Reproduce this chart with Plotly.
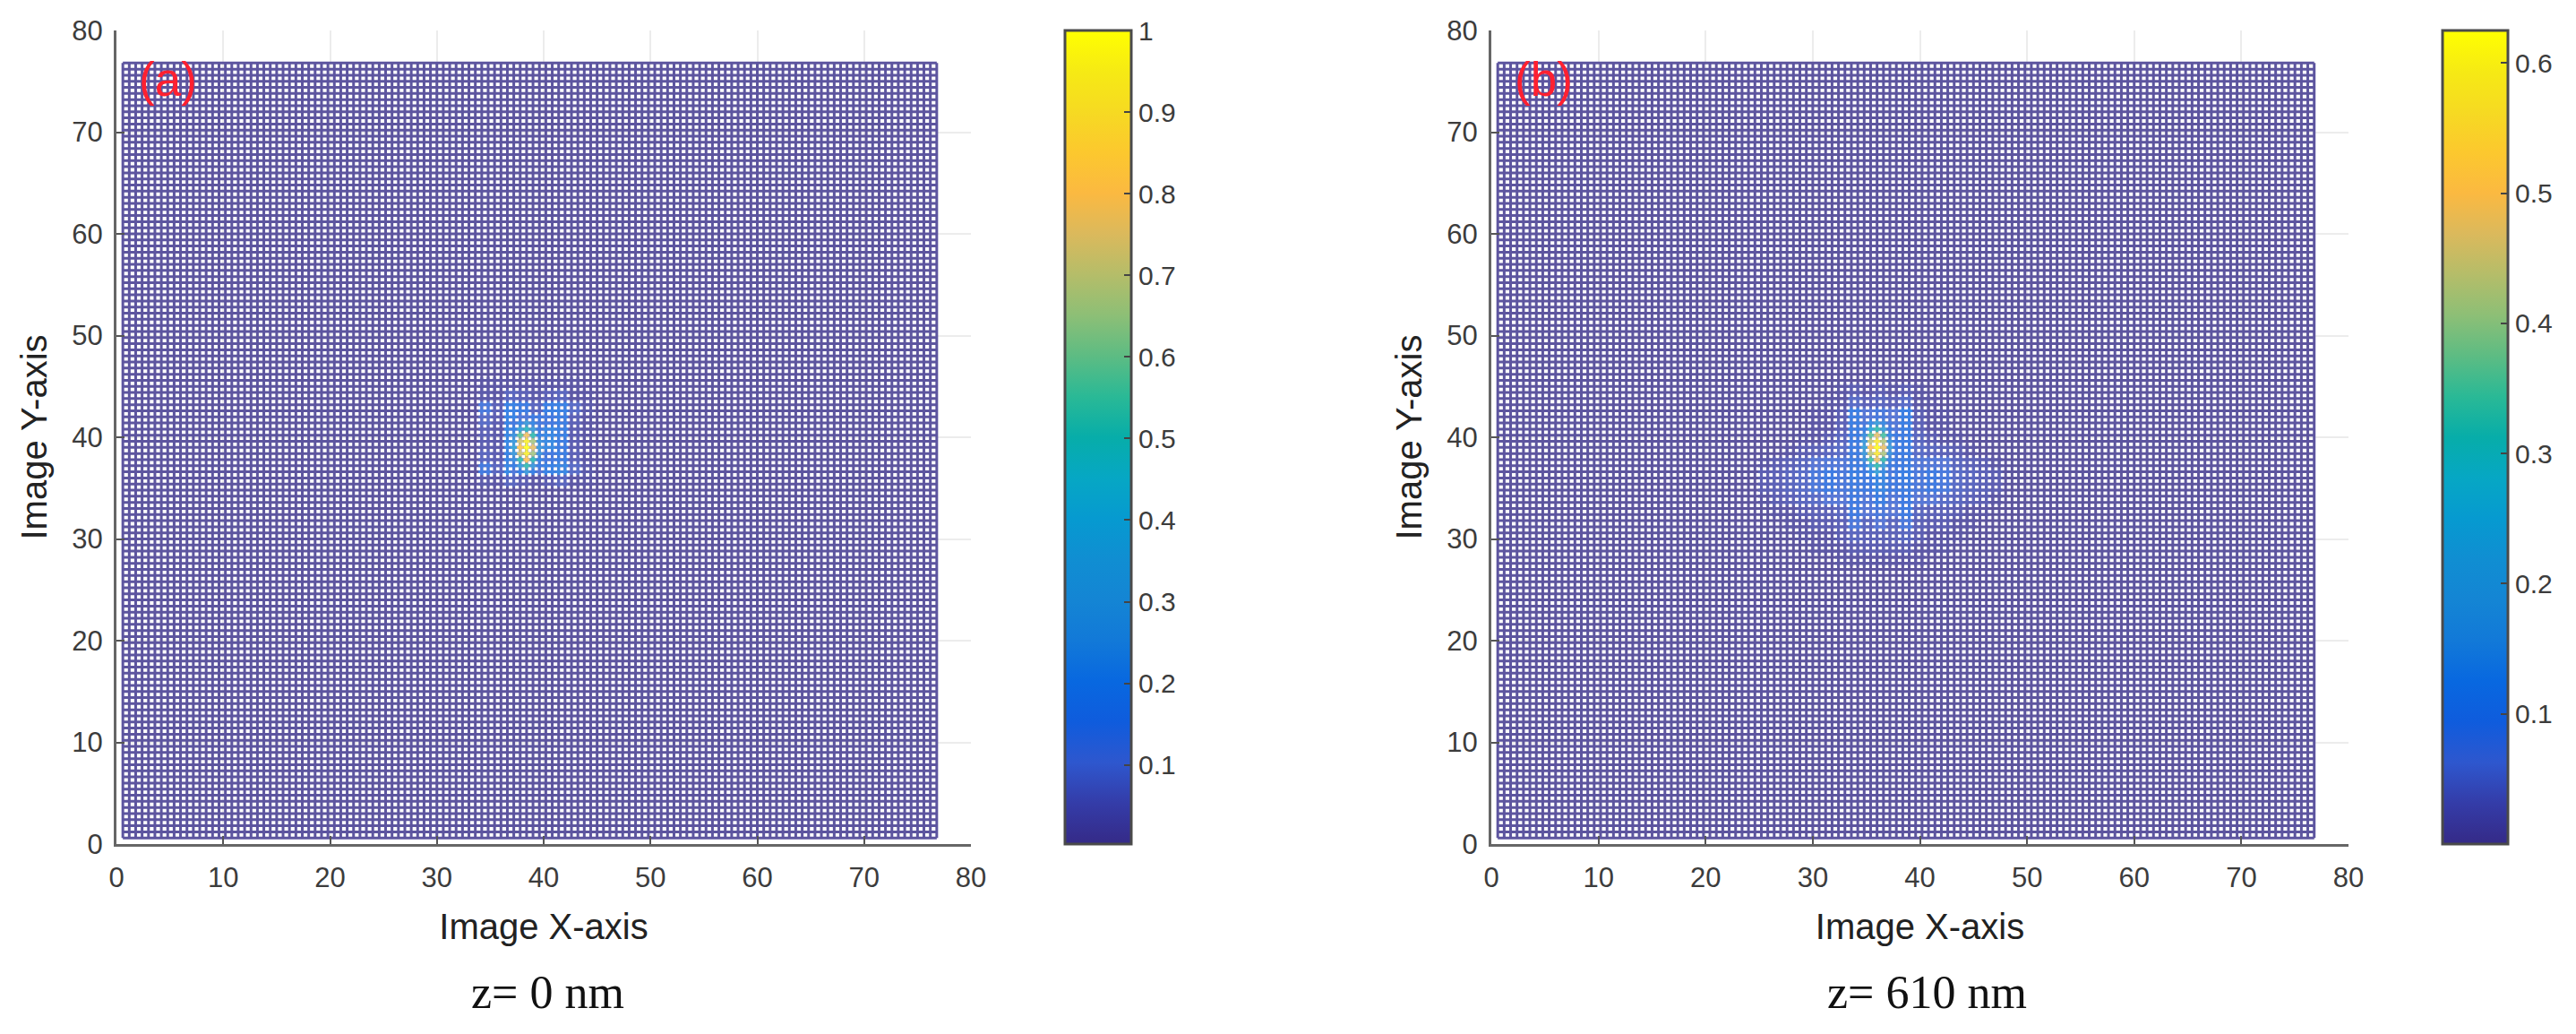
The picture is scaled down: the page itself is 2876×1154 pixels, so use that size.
import plotly.graph_objects as go

W, H = 2876, 1154

PARULA = ["#352a87", "#343ca8", "#2e57ce", "#0f5cdd", "#0868e0", "#1279d8", "#1485d4", "#108ed2",
          "#069ad0", "#06a7c4", "#07ada9", "#2ab996", "#5dbc83", "#8dbf76", "#b5bd69", "#dbb95c",
          "#fbb941", "#fcc82e", "#f6da22", "#f6ea14", "#ffff00"]

TICKS_AXIS = [0, 10, 20, 30, 40, 50, 60, 70, 80]
CBAR_A_TICKS = [0.1, 0.2, 0.3, 0.4, 0.5, 0.6, 0.7, 0.8, 0.9, 1]
CBAR_B_TICKS = [0.1, 0.2, 0.3, 0.4, 0.5, 0.6]
CBAR_A_RANGE = [0.003, 1.0]
CBAR_B_RANGE = [0.0, 0.625]

MESH_STEP = 0.6
MESH_COUNT = 128

# Panel (a): coarse side-lobe cells (1.2 units), top row first
A_HALO_X = [34.2, 35.4, 36.6, 37.8, 39.0, 40.2, 41.4, 42.6, 43.8]
A_HALO_Y = [45.0, 43.8, 42.6, 41.4, 40.2, 39.0, 37.8, 36.6, 35.4]
A_HALO = [
    [.01, .01, .02, .02, .01, .02, .02, .01, .00],
    [.03, .02, .06, .05, .03, .05, .06, .02, .01],
    [.13, .05, .19, .16, .06, .18, .19, .08, .03],
    [.08, .04, .20, .12, .15, .14, .18, .05, .02],
    [.05, .03, .22, .18, .25, .21, .19, .04, .01],
    [.04, .03, .22, .22, .25, .23, .17, .04, .01],
    [.06, .04, .20, .14, .15, .14, .18, .05, .02],
    [.14, .06, .21, .17, .09, .19, .21, .08, .03],
    [.03, .02, .06, .04, .02, .04, .06, .02, .01],
]
# Panel (a): main lobe on mesh nodes, top row first
A_CORE_X = [37.2, 37.8, 38.4, 39.0, 39.6]
A_CORE_Y = [41.4, 40.8, 40.2, 39.6, 39.0, 38.4, 37.8, 37.2, 36.6]
A_CORE = [
    [.14, .22, .32, .22, .14],
    [.20, .36, .48, .32, .16],
    [.26, .58, .78, .52, .20],
    [.30, .72, .95, .66, .26],
    [.36, .82, 1.0, .76, .30],
    [.30, .72, .95, .66, .26],
    [.24, .52, .80, .50, .20],
    [.18, .32, .52, .30, .16],
    [.12, .18, .30, .18, .10],
]

# Panel (b): coarse side-lobe cells (1.2 units), top row first
B_HALO_X = [25.2, 26.4, 27.6, 28.8, 30.0, 31.2, 32.4, 33.6, 34.8, 36.0, 37.2, 38.4, 39.6, 40.8, 42.0, 43.2, 44.4, 45.6, 46.8]
B_HALO_Y = [44.4, 43.2, 42.0, 40.8, 39.6, 38.4, 37.2, 36.0, 34.8, 33.6, 32.4, 31.2, 30.0, 28.8, 27.6]
B_HALO = [
    [.00, .00, .00, .00, .00, .00, .01, .02, .01, .02, .01, .02, .01, .00, .00, .00, .00, .00, .00],
    [.00, .00, .00, .00, .00, .01, .01, .05, .03, .04, .03, .05, .01, .01, .00, .00, .00, .00, .00],
    [.00, .00, .00, .00, .01, .01, .02, .11, .06, .08, .06, .11, .02, .01, .01, .00, .00, .00, .00],
    [.00, .00, .00, .00, .01, .01, .03, .11, .07, .14, .07, .11, .03, .01, .01, .00, .00, .00, .00],
    [.00, .00, .00, .01, .01, .02, .04, .10, .09, .16, .09, .10, .04, .02, .01, .01, .00, .00, .00],
    [.00, .00, .01, .02, .03, .04, .05, .10, .09, .15, .09, .10, .05, .04, .03, .02, .01, .00, .00],
    [.01, .02, .03, .04, .06, .07, .07, .10, .09, .14, .09, .10, .07, .07, .06, .04, .03, .02, .01],
    [.02, .03, .04, .05, .08, .09, .08, .11, .09, .13, .09, .11, .08, .09, .08, .05, .04, .03, .02],
    [.02, .03, .04, .05, .08, .09, .08, .10, .09, .13, .09, .10, .08, .09, .08, .05, .04, .03, .02],
    [.01, .02, .03, .04, .05, .06, .06, .09, .07, .11, .07, .09, .06, .06, .05, .04, .03, .02, .01],
    [.00, .01, .01, .02, .03, .03, .04, .09, .06, .08, .06, .09, .04, .03, .03, .02, .01, .01, .00],
    [.00, .00, .01, .01, .02, .02, .03, .08, .04, .06, .04, .08, .03, .02, .02, .01, .01, .00, .00],
    [.00, .00, .00, .01, .01, .01, .02, .04, .03, .03, .03, .04, .02, .01, .01, .01, .00, .00, .00],
    [.00, .00, .00, .00, .01, .01, .01, .02, .02, .02, .02, .02, .01, .01, .01, .00, .00, .00, .00],
    [.00, .00, .00, .00, .00, .00, .01, .01, .01, .01, .01, .01, .01, .00, .00, .00, .00, .00, .00],
]
# Panel (b): main lobe on mesh nodes, top row first
B_CORE_X = [34.8, 35.4, 36.0, 36.6, 37.2]
B_CORE_Y = [41.4, 40.8, 40.2, 39.6, 39.0, 38.4, 37.8, 37.2, 36.6]
B_CORE = [
    [.08, .14, .20, .14, .08],
    [.12, .24, .32, .22, .10],
    [.16, .36, .47, .34, .13],
    [.19, .44, .58, .42, .16],
    [.22, .50, .62, .48, .20],
    [.19, .44, .58, .42, .16],
    [.16, .34, .48, .32, .13],
    [.12, .22, .32, .21, .10],
    [.09, .14, .22, .14, .08],
]

TEXT_COLOR = "#3c3c3c"
LINE_WIDTH = 3.0
SOFTEN = 0.2
COLOUR_LEVELS = 80


def px_x(p):
    return p / W


def px_y(p):
    return 1 - p / H


def mesh_index(v):
    return round(v / MESH_STEP)


def rgb(col):
    return [int(col[k:k + 2], 16) for k in (1, 3, 5)]


def colour(v, lo, hi):
    f = min(max((v - lo) / (hi - lo), 0), 1)
    f = round(f * COLOUR_LEVELS) / COLOUR_LEVELS
    pos = f * (len(PARULA) - 1)
    k = min(int(pos), len(PARULA) - 2)
    t = pos - k
    mix = [a + (b - a) * t for a, b in zip(rgb(PARULA[k]), rgb(PARULA[k + 1]))]
    return "#%02x%02x%02x" % tuple(round(c + (255 - c) * SOFTEN) for c in mix)


def node_values(hx, hy, hz, cx, cy, cz):
    values = {}
    for r, y in enumerate(hy):
        for c, x in enumerate(hx):
            i0, j0 = mesh_index(x), mesh_index(y)
            for i in (i0, i0 + 1):
                for j in (j0, j0 + 1):
                    values[(i, j)] = hz[r][c]
    for r, y in enumerate(cy):
        for c, x in enumerate(cx):
            values[(mesh_index(x), mesh_index(y))] = cz[r][c]
    return values


def add_panel(fig, n, values, rng):
    xa, ya = f"x{n}", f"y{n}"
    grid = [MESH_STEP * k for k in range(1, MESH_COUNT + 1)]
    lo_g, hi_g = grid[0], grid[-1]
    xs, ys = [], []
    for g in grid:
        xs += [g, g, None, lo_g, hi_g, None]
        ys += [lo_g, hi_g, None, g, g, None]
    base = colour(rng[0], *rng)
    fig.add_trace(go.Scatter(x=xs, y=ys, mode="lines", xaxis=xa, yaxis=ya, showlegend=False,
                             hoverinfo="skip", line=dict(color=base, width=LINE_WIDTH)))
    bins = {}
    for (i, j), v in sorted(values.items(), key=lambda t: t[1]):
        col = colour(v, *rng)
        if col == base:
            continue
        b = bins.setdefault(col, ([], [], v))
        x0, y0 = i * MESH_STEP, j * MESH_STEP
        b[0].extend([x0 - MESH_STEP / 2, x0 + MESH_STEP / 2, None, x0, x0, None])
        b[1].extend([y0, y0, None, y0 - MESH_STEP / 2, y0 + MESH_STEP / 2, None])
    for col, (bx, by, _) in sorted(bins.items(), key=lambda t: t[1][2]):
        fig.add_trace(go.Scatter(x=bx, y=by, mode="lines", xaxis=xa, yaxis=ya, showlegend=False,
                                 hoverinfo="skip", line=dict(color=col, width=LINE_WIDTH)))


fig = go.Figure()
add_panel(fig, "", node_values(A_HALO_X, A_HALO_Y, A_HALO, A_CORE_X, A_CORE_Y, A_CORE), CBAR_A_RANGE)
add_panel(fig, "2", node_values(B_HALO_X, B_HALO_Y, B_HALO, B_CORE_X, B_CORE_Y, B_CORE), CBAR_B_RANGE)

# Traces that carry the colour bars
fig.add_trace(go.Scatter(x=[38.4], y=[39.0], xaxis="x", yaxis="y", mode="markers", showlegend=False, hoverinfo="skip",
                         marker=dict(color=[1.0], coloraxis="coloraxis", size=1, opacity=0)))
fig.add_trace(go.Scatter(x=[36.0], y=[39.0], xaxis="x2", yaxis="y2", mode="markers", showlegend=False, hoverinfo="skip",
                         marker=dict(color=[0.62], coloraxis="coloraxis2", size=1, opacity=0)))

TOP, BOTTOM = 34, 942
PANELS = {"a": (130, 1084, 1189, 1263), "b": (1665, 2622, 2727, 2800)}
scale = [[i / (len(PARULA) - 1), c] for i, c in enumerate(PARULA)]


def cbar(left, right, ticks):
    return dict(x=px_x(left), xanchor="left", xpad=0, y=px_y(BOTTOM), yanchor="bottom", ypad=0,
                thicknessmode="pixels", thickness=right - left, lenmode="pixels", len=BOTTOM - TOP,
                outlinecolor="#4a4a4a", outlinewidth=3, tickvals=ticks, ticktext=[str(t) for t in ticks],
                ticks="inside", ticklen=9, tickwidth=2, tickcolor="#444444",
                tickfont=dict(family="Liberation Sans", size=30, color=TEXT_COLOR))


def axis(dom, anchor, title, label_offset, title_gap):
    return dict(domain=dom, anchor=anchor, range=[0, 80], tickvals=TICKS_AXIS, ticks="inside", ticklen=9, tickwidth=2,
                tickcolor="#555555", showline=True, linecolor="#666666", linewidth=3, mirror=False, automargin=False,
                showgrid=True, gridcolor="#ececec", gridwidth=2, zeroline=False, ticklabelstandoff=label_offset,
                tickfont=dict(family="Liberation Sans", size=31, color=TEXT_COLOR),
                title=dict(text=title, font=dict(family="Liberation Sans", size=40, color="#222222"), standoff=title_gap))


ydom = [px_y(BOTTOM), px_y(TOP)]
xa1, xa2 = PANELS["a"][:2], PANELS["b"][:2]
ANNOT = [("(a)", "x", "y", 4.85, 75.2), ("(b)", "x2", "y2", 4.85, 75.2)]
CAPTIONS = [("z= 0 nm", 611), ("z= 610 nm", 2151)]

annotations = [dict(text=t, xref=xr, yref=yr, x=x, y=y, showarrow=False, xanchor="center", yanchor="middle",
                    font=dict(family="Liberation Sans", size=53, color="#ff2030")) for t, xr, yr, x, y in ANNOT]
annotations += [dict(text=t, xref="paper", yref="paper", x=px_x(cx), y=px_y(1107), showarrow=False,
                     xanchor="center", yanchor="middle",
                     font=dict(family="Liberation Serif", size=52, color="#111111")) for t, cx in CAPTIONS]

fig.update_layout(
    width=W, height=H, margin=dict(l=0, r=0, t=0, b=0, autoexpand=False), paper_bgcolor="white", plot_bgcolor="white",
    showlegend=False,
    xaxis=axis([px_x(xa1[0]), px_x(xa1[1])], "y", "Image X-axis", 8, 24),
    yaxis=axis(ydom, "x", "Image Y-axis", 6, 16),
    xaxis2=axis([px_x(xa2[0]), px_x(xa2[1])], "y2", "Image X-axis", 8, 24),
    yaxis2=axis(ydom, "x2", "Image Y-axis", 6, 16),
    coloraxis=dict(colorscale=scale, cmin=CBAR_A_RANGE[0], cmax=CBAR_A_RANGE[1],
                   colorbar=cbar(PANELS["a"][2], PANELS["a"][3], CBAR_A_TICKS)),
    coloraxis2=dict(colorscale=scale, cmin=CBAR_B_RANGE[0], cmax=CBAR_B_RANGE[1],
                    colorbar=cbar(PANELS["b"][2], PANELS["b"][3], CBAR_B_TICKS)),
    annotations=annotations,
)

fig.write_html("out.html", post_script="document.body.style.margin='0';", config={"displayModeBar": False})
